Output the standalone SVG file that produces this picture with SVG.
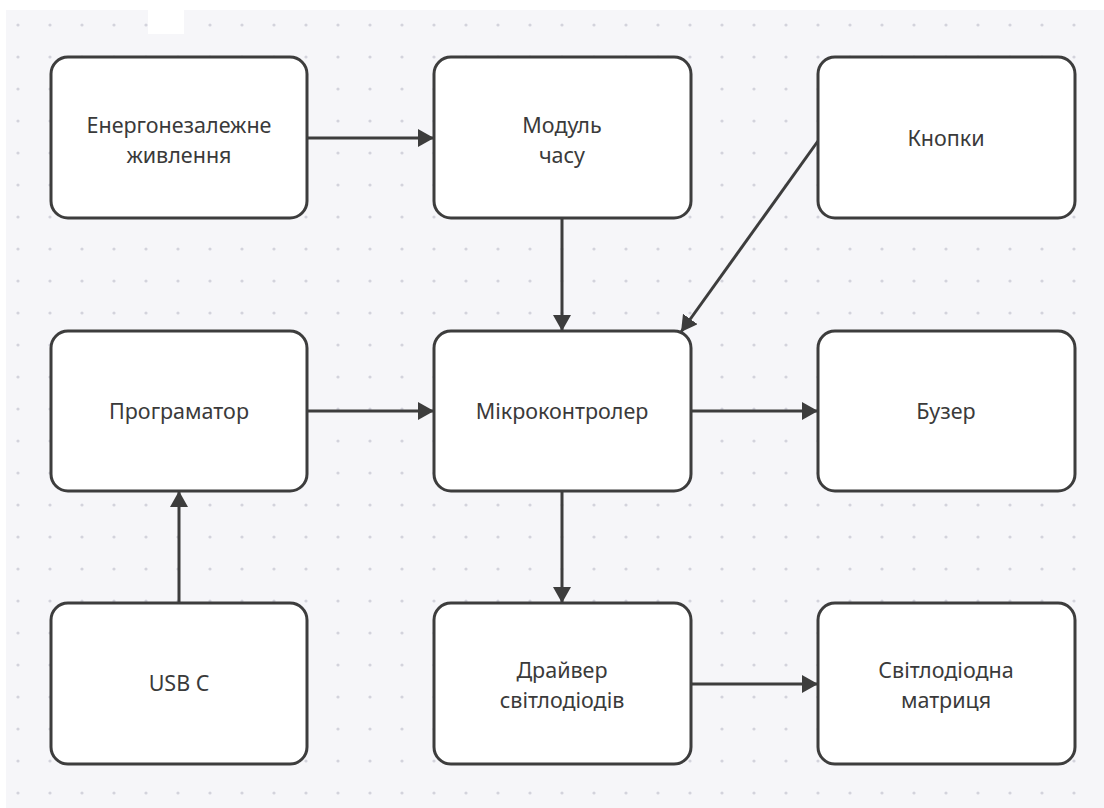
<svg xmlns="http://www.w3.org/2000/svg" width="1104" height="808" viewBox="0 0 1104 808">
<defs>
<pattern id="dots" x="2" y="9" width="32" height="32" patternUnits="userSpaceOnUse">
<circle cx="16" cy="16" r="1.6" fill="#d3d3dc"/>
</pattern>
<marker id="ah" markerWidth="16" markerHeight="18" refX="16" refY="9" orient="auto" markerUnits="userSpaceOnUse">
<path d="M0,0 L16,9 L0,18 Z" fill="#3d3d3d"/>
</marker>
<style>
.box{fill:#ffffff;stroke:#3d3d3d;stroke-width:3}
.lbl{font-family:"Noto Sans","Open Sans",sans-serif;font-size:21.5px;fill:#3a3a3a;text-anchor:middle}
.con{stroke:#3d3d3d;stroke-width:3;fill:none;marker-end:url(#ah)}
</style>
</defs>
<rect x="0" y="0" width="1104" height="808" fill="#ffffff"/>
<rect x="6" y="10" width="1098" height="798" fill="#f6f6f9"/>
<rect x="6" y="10" width="1098" height="798" fill="url(#dots)"/>
<rect x="148" y="10" width="36" height="24" fill="#ffffff"/>

<g id="connectors">
<line class="con" x1="307" y1="138" x2="434" y2="138"/>
<line class="con" x1="562" y1="218" x2="562" y2="331"/>
<line class="con" x1="818" y1="141" x2="681" y2="332"/>
<line class="con" x1="307" y1="411" x2="434" y2="411"/>
<line class="con" x1="691" y1="411" x2="818" y2="411"/>
<line class="con" x1="562" y1="491" x2="562" y2="603"/>
<line class="con" x1="691" y1="684" x2="818" y2="684"/>
<line class="con" x1="179" y1="603" x2="179" y2="491"/>
</g>

<g id="node-power">
<rect class="box" x="51" y="57" width="256" height="161" rx="17"/>
<text class="lbl" x="179" y="133">Енергонезалежне</text>
<text class="lbl" x="179" y="163">живлення</text>
</g>
<g id="node-time">
<rect class="box" x="434" y="57" width="257" height="161" rx="17"/>
<text class="lbl" x="562" y="133">Модуль</text>
<text class="lbl" x="562" y="163">часу</text>
</g>
<g id="node-buttons">
<rect class="box" x="818" y="57" width="257" height="161" rx="17"/>
<text class="lbl" x="946" y="146">Кнопки</text>
</g>
<g id="node-programmer">
<rect class="box" x="51" y="331" width="256" height="160" rx="17"/>
<text class="lbl" x="179" y="419">Програматор</text>
</g>
<g id="node-mcu">
<rect class="box" x="434" y="331" width="257" height="160" rx="17"/>
<text class="lbl" x="562" y="419">Мікроконтролер</text>
</g>
<g id="node-buzzer">
<rect class="box" x="818" y="331" width="257" height="160" rx="17"/>
<text class="lbl" x="946" y="419">Бузер</text>
</g>
<g id="node-usb">
<rect class="box" x="51" y="603" width="256" height="161" rx="17"/>
<text class="lbl" x="179" y="691">USB C</text>
</g>
<g id="node-driver">
<rect class="box" x="434" y="603" width="257" height="161" rx="17"/>
<text class="lbl" x="562" y="678">Драйвер</text>
<text class="lbl" x="562" y="708">світлодіодів</text>
</g>
<g id="node-matrix">
<rect class="box" x="818" y="603" width="257" height="161" rx="17"/>
<text class="lbl" x="946" y="678">Світлодіодна</text>
<text class="lbl" x="946" y="708">матриця</text>
</g>
</svg>
